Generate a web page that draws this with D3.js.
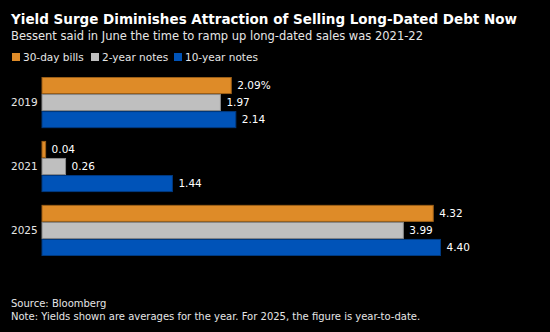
<!DOCTYPE html>
<html>
<head>
<meta charset="utf-8">
<script src="https://cdn.jsdelivr.net/npm/d3@7"></script>
<style>
  html, body { margin: 0; padding: 0; background: #000; }
  svg { display: block; font-family: "DejaVu Sans", Tahoma, sans-serif; }
</style>
</head>
<body>
<div id="chart"></div>
<script>
const years = ["2019", "2021", "2025"];
const seriesNames = ["30-day bills", "2-year notes", "10-year notes"];
const bills = [2.09, 0.04, 4.32];
const twoYear = [1.97, 0.26, 3.99];
const tenYear = [2.14, 1.44, 4.40];
const valueLabels = [
  ["2.09%", "1.97", "2.14"],
  ["0.04", "0.26", "1.44"],
  ["4.32", "3.99", "4.40"]
];

const colors = ["#de8b28", "#bfbfbf", "#0053b8"];
const strokes = ["#9c5f17", "#8a8a8a", "#003a80"];

const width = 550, height = 332;
const svg = d3.select("#chart").append("svg")
  .attr("width", width)
  .attr("height", height);

svg.append("rect").attr("width", width).attr("height", height).attr("fill", "#000");

svg.append("text")
  .attr("x", 11).attr("y", 24)
  .attr("fill", "#fff")
  .style("font-size", "13.5px")
  .style("font-weight", "bold")
  .text("Yield Surge Diminishes Attraction of Selling Long-Dated Debt Now");

svg.append("text")
  .attr("x", 11).attr("y", 40)
  .attr("fill", "#e6e6e6")
  .style("font-size", "11.5px")
  .text("Bessent said in June the time to ramp up long-dated sales was 2021-22");

// legend
const legendX = [12, 91, 174];
const legend = svg.selectAll("g.legend")
  .data(seriesNames)
  .enter().append("g")
  .attr("class", "legend")
  .attr("transform", (d, i) => `translate(${legendX[i]},53)`);
legend.append("rect")
  .attr("width", 8).attr("height", 8)
  .attr("fill", (d, i) => colors[i]);
legend.append("text")
  .attr("x", 11).attr("y", 8)
  .attr("fill", "#e6e6e6")
  .style("font-size", "10.5px")
  .text(d => d);

const margin = { left: 42, top: 77 };
const x = d3.scaleLinear().domain([0, 4.40]).range([margin.left, 440.5]);

const y0 = d3.scaleBand()
  .domain(years)
  .range([margin.top, 256])
  .paddingInner(0.2)
  .paddingOuter(0);

const y1 = d3.scaleBand()
  .domain(d3.range(3))
  .range([0, y0.bandwidth()]);

const rows = years.map((yr, i) => ({
  year: yr,
  values: [bills[i], twoYear[i], tenYear[i]],
  labels: valueLabels[i]
}));

const group = svg.selectAll("g.year")
  .data(rows)
  .enter().append("g")
  .attr("class", "year")
  .attr("transform", d => `translate(0,${y0(d.year)})`);

group.append("text")
  .attr("x", 11)
  .attr("y", y0.bandwidth() / 2)
  .attr("dy", "0.35em")
  .attr("fill", "#e6e6e6")
  .style("font-size", "10.5px")
  .text(d => d.year);

group.selectAll("rect")
  .data(d => d.values.map((v, i) => ({ v, i, label: d.labels[i] })))
  .enter().append("rect")
  .attr("x", x(0))
  .attr("y", d => y1(d.i) + 0.5)
  .attr("width", d => x(d.v) - x(0))
  .attr("height", y1.bandwidth() - 1)
  .attr("fill", d => colors[d.i])
  .attr("stroke", d => strokes[d.i])
  .attr("stroke-width", 1);

group.selectAll("text.val")
  .data(d => d.values.map((v, i) => ({ v, i, label: d.labels[i] })))
  .enter().append("text")
  .attr("class", "val")
  .attr("x", d => x(d.v) + 6)
  .attr("y", d => y1(d.i) + y1.bandwidth() / 2)
  .attr("dy", "0.35em")
  .attr("fill", "#fff")
  .style("font-size", "10.5px")
  .text(d => d.label);

svg.append("text")
  .attr("x", 11).attr("y", 307)
  .attr("fill", "#e6e6e6")
  .style("font-size", "10px")
  .text("Source: Bloomberg");

svg.append("text")
  .attr("x", 11).attr("y", 320)
  .attr("fill", "#e6e6e6")
  .style("font-size", "10px")
  .text("Note: Yields shown are averages for the year. For 2025, the figure is year-to-date.");
</script>
</body>
</html>
